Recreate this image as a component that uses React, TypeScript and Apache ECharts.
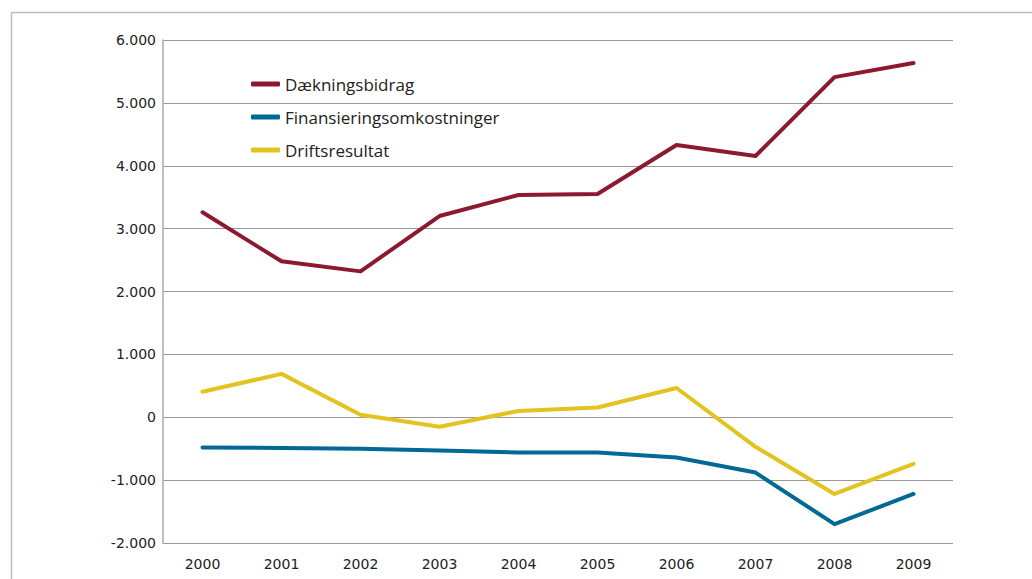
import React, { useEffect, useRef } from "react";
import * as echarts from "echarts";

const years = ["2000", "2001", "2002", "2003", "2004", "2005", "2006", "2007", "2008", "2009"];
const daekningsbidrag = [3260, 2480, 2320, 3200, 3535, 3550, 4330, 4155, 5410, 5635];
const finansiering = [-480, -490, -500, -530, -560, -560, -640, -880, -1700, -1220];
const driftsresultat = [405, 690, 40, -150, 100, 155, 465, -470, -1220, -740];
const yTicks = [-2000, -1000, 0, 1000, 2000, 3000, 4000, 5000, 6000];

const fmt = (v: number) => {
  if (v === 0) return "0";
  const s = Math.abs(v).toLocaleString("en-US").replace(/,/g, ".");
  return (v < 0 ? "-" : "") + s;
};

export default function App() {
  const ref = useRef<HTMLDivElement>(null);
  useEffect(() => {
    if (!ref.current) return;
    const chart = echarts.init(ref.current, null, { renderer: "svg" });
    const lineStyle = (c: string) => ({ width: 4, color: c, cap: "round" as const, join: "round" as const });
    chart.setOption({
      animation: false,
      backgroundColor: "#fff",
      grid: { left: 163, right: 79, top: 40, bottom: 36, containLabel: false },
      legend: {
        orient: "vertical",
        left: 246,
        top: 69,
        itemWidth: 29,
        itemHeight: 5,
        itemGap: 13,
        icon: "roundRect",
        textStyle: { fontFamily: "Open Sans", fontSize: 17, color: "#222", lineHeight: 20 },
        data: ["Dækningsbidrag", "Finansieringsomkostninger", "Driftsresultat"],
      },
      xAxis: {
        type: "category",
        data: years,
        boundaryGap: true,
        axisLine: { show: false },
        axisTick: { show: false },
        axisLabel: { fontFamily: "DejaVu Sans", fontSize: 14, color: "#222", margin: 14 },
      },
      yAxis: {
        type: "value",
        min: yTicks[0],
        max: yTicks[yTicks.length - 1],
        interval: 1000,
        axisLine: { show: true, lineStyle: { color: "#aaa", width: 1.5 } },
        axisTick: { show: false },
        splitLine: { lineStyle: { color: "#999", width: 1.2 } },
        axisLabel: { fontFamily: "DejaVu Sans", fontSize: 14, color: "#222", margin: 7, formatter: fmt },
      },
      series: [
        { name: "Dækningsbidrag", type: "line", data: daekningsbidrag, symbol: "none", color: "#8B1A30", lineStyle: lineStyle("#8B1A30") },
        { name: "Finansieringsomkostninger", type: "line", data: finansiering, symbol: "none", color: "#006A94", lineStyle: lineStyle("#006A94") },
        { name: "Driftsresultat", type: "line", data: driftsresultat, symbol: "none", color: "#E2C31F", lineStyle: lineStyle("#E2C31F") },
      ],
      graphic: [
        {
          type: "polyline",
          shape: { points: [[11.5, 579], [11.5, 12.5], [1032, 12.5]] },
          style: { stroke: "#bbb", lineWidth: 1.5, fill: "none" },
          silent: true,
        },
      ],
    });
    return () => chart.dispose();
  }, []);
  return <div ref={ref} style={{ position: "fixed", left: 0, top: 0, width: 1032, height: 579 }} />;
}
